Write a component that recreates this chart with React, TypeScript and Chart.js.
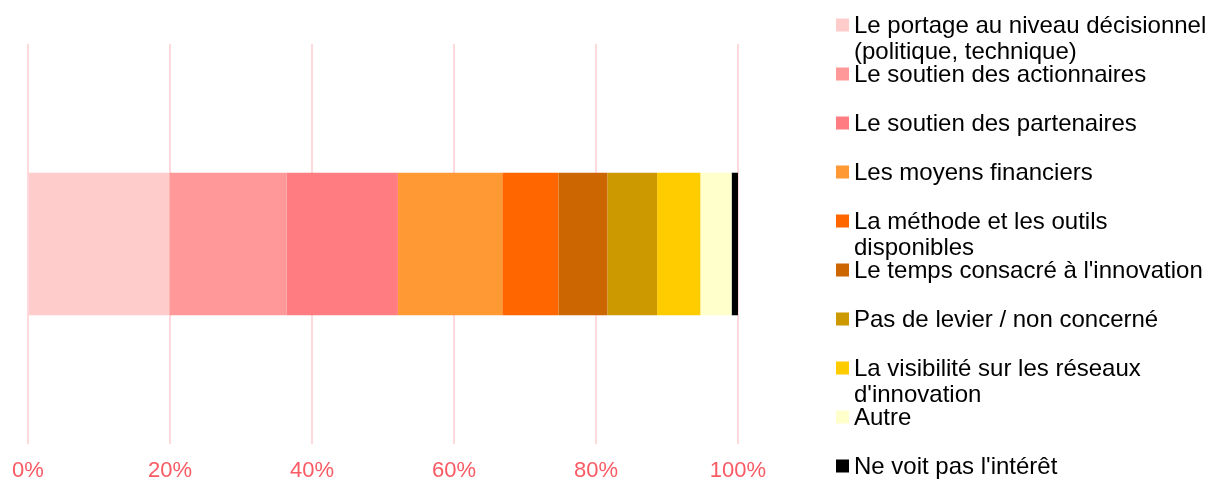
import { useEffect, useRef } from 'react';
import { Chart, registerables } from 'chart.js';

Chart.register(...registerables);

const categories = [''];

const seriesLabels: string[][] = [
  ['Le portage au niveau décisionnel', '(politique, technique)'],
  ['Le soutien des actionnaires'],
  ['Le soutien des partenaires'],
  ['Les moyens financiers'],
  ['La méthode et les outils', 'disponibles'],
  ["Le temps consacré à l'innovation"],
  ['Pas de levier / non concerné'],
  ['La visibilité sur les réseaux', "d'innovation"],
  ['Autre'],
  ["Ne voit pas l'intérêt"],
];

const seriesValues = [19.9, 16.5, 15.7, 14.7, 7.9, 6.9, 7.0, 6.1, 4.4, 0.9];

const seriesColors = [
  '#FFCCCC',
  '#FF9999',
  '#FF7C80',
  '#FF9933',
  '#FF6600',
  '#CC6600',
  '#CC9900',
  '#FFCC00',
  '#FFFFCC',
  '#000000',
];

const tickValues = [0, 20, 40, 60, 80, 100];

const FONT = '"Liberation Sans", Arial, sans-serif';

const sideLegend = {
  id: 'sideLegend',
  afterDraw(chart: any) {
    const ctx = chart.ctx as CanvasRenderingContext2D;
    ctx.save();
    ctx.font = `24px ${FONT}`;
    ctx.textBaseline = 'middle';
    ctx.textAlign = 'left';
    chart.data.datasets.forEach((ds: any, i: number) => {
      const y = 25 + 49 * i;
      ctx.fillStyle = ds.backgroundColor;
      ctx.fillRect(836, y - 6.5, 13, 13);
      ctx.fillStyle = '#000000';
      seriesLabels[i].forEach((line, j) => {
        ctx.fillText(line, 854, y + 1 + j * 26.4);
      });
    });
    ctx.restore();
  },
};

export default function App() {
  const canvasRef = useRef<HTMLCanvasElement | null>(null);

  useEffect(() => {
    document.body.style.margin = '0';
    const canvas = canvasRef.current;
    if (!canvas) return;
    const chart = new Chart(canvas, {
      type: 'bar',
      data: {
        labels: categories,
        datasets: seriesValues.map((v, i) => ({
          label: seriesLabels[i].join(' '),
          data: [v],
          backgroundColor: seriesColors[i],
          borderWidth: 0,
          barPercentage: 0.356,
          categoryPercentage: 1,
        })),
      },
      options: {
        indexAxis: 'y',
        responsive: true,
        maintainAspectRatio: false,
        animation: false,
        layout: { padding: { left: 28, right: 469, top: 44, bottom: 0 } },
        plugins: {
          legend: { display: false },
          tooltip: { enabled: false },
        },
        scales: {
          x: {
            stacked: true,
            min: 0,
            max: 100,
            afterBuildTicks: (axis: any) => {
              axis.ticks = tickValues.map((v) => ({ value: v }));
            },
            grid: { color: '#FFD9DC', lineWidth: 2, drawTicks: false },
            border: { display: false },
            ticks: {
              padding: 0,
              color: '#FA5A64',
              font: { family: FONT, size: 22, lineHeight: '54px' },
              callback: (v: any) => `${v}%`,
            },
          },
          y: { stacked: true, display: false },
        },
      },
      plugins: [sideLegend],
    });
    return () => chart.destroy();
  }, []);

  return (
    <div style={{ width: 1207, height: 481, overflow: 'hidden', position: 'relative' }}>
      <div style={{ width: 1207, height: 498, position: 'relative' }}>
        <canvas ref={canvasRef} />
      </div>
    </div>
  );
}
